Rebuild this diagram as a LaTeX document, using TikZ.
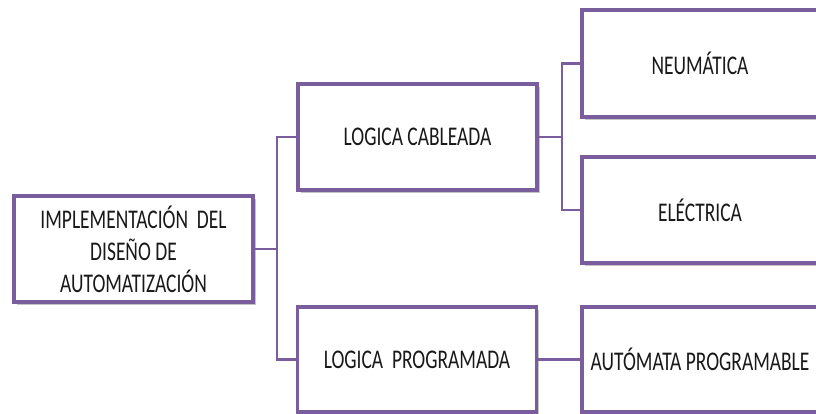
\documentclass[tikz,border=0pt]{standalone}
\usepackage{fontspec}
\setmainfont{Carlito}[FakeStretch=0.72]
\usetikzlibrary{shadows}
\definecolor{boxpurple}{HTML}{7A5D9C}
\tikzset{
  box/.style={draw=boxpurple, line width=3.8pt, fill=white, rectangle, inner sep=0pt,
    minimum width=239pt, minimum height=106pt, align=center,
    font=\fontsize{27}{32}\selectfont, text=black!90,
    drop shadow={shadow xshift=2.5pt, shadow yshift=-3pt, fill=black!45, opacity=0.5}},
  conn/.style={draw=boxpurple, line width=2.8pt}
}
\begin{document}
\begin{tikzpicture}[x=1pt,y=-1pt]
\useasboundingbox (0,0) rectangle (816,414);
\node[box] (root) at (133.5,249) {IMPLEMENTACIÓN\ \ DEL\\DISEÑO DE\\AUTOMATIZACIÓN};
\node[box] (lc) at (417.5,137) {LOGICA CABLEADA};
\node[box, minimum height=105pt] (lp) at (417,359.5) {LOGICA\ \ PROGRAMADA};
\node[box, minimum width=236pt, minimum height=107pt] (neu) at (700,63.5) {NEUMÁTICA};
\node[box, minimum width=236pt] (ele) at (700,210) {ELÉCTRICA};
\node[box, minimum width=236pt, minimum height=105pt] (aut) at (700,359.5) {AUTÓMATA\ PROGRAMABLE};
\draw[conn] (root.east) -- ++(22,0) coordinate (j1);
\draw[conn] (j1) |- (lc.west);
\draw[conn] (j1) |- (lp.west);
\draw[conn] (lc.east) -- ++(23,0) coordinate (j2);
\draw[conn] (j2) |- (neu.west);
\draw[conn] (j2) |- (ele.west);
\draw[conn] (lp.east) -- (aut.west);
\end{tikzpicture}
\end{document}
